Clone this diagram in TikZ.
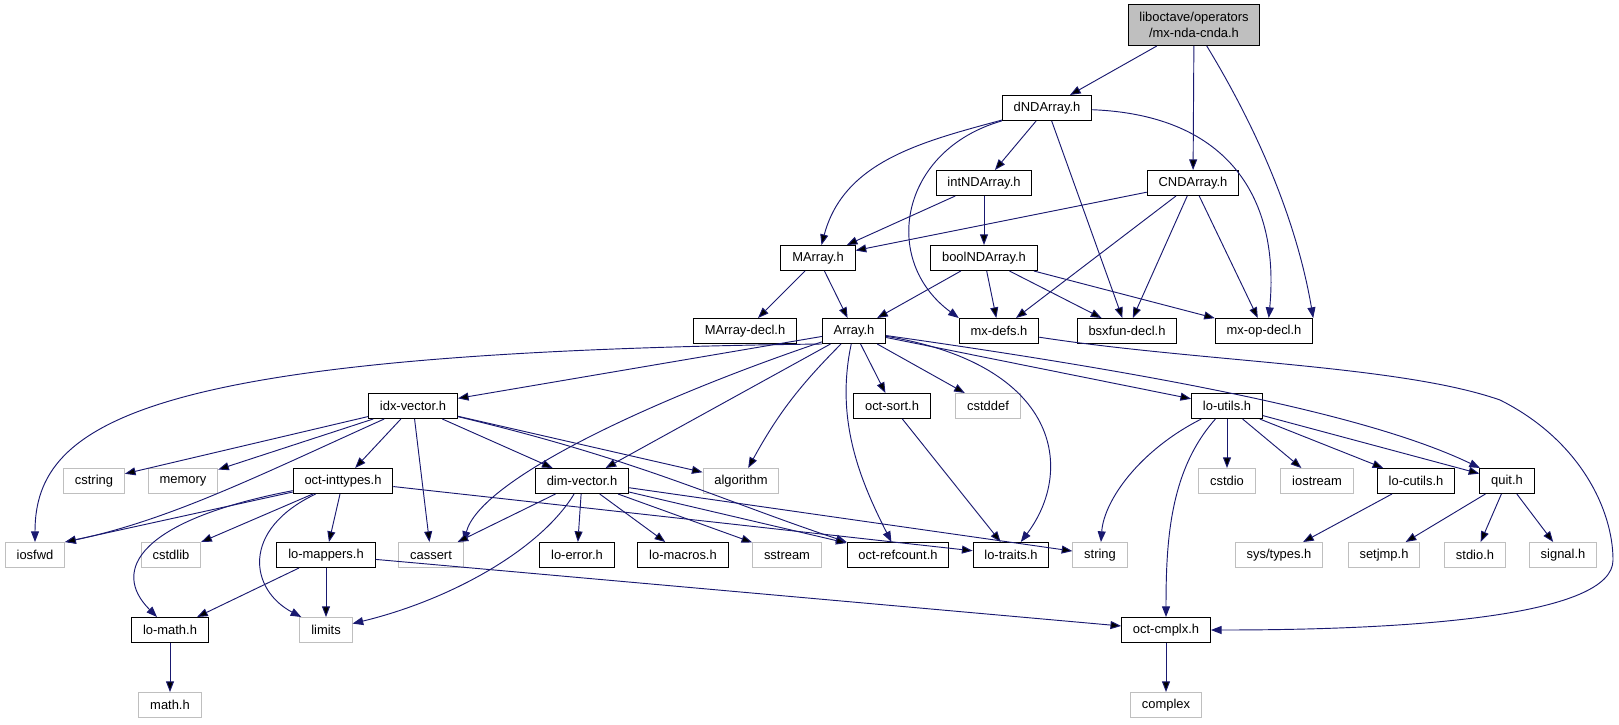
\documentclass[tikz,border=0pt]{standalone}
\usepackage{fontspec}
\setmainfont{Liberation Sans}
\usepackage{tikz}
\usetikzlibrary{arrows.meta}
\definecolor{edgeblue}{RGB}{25,25,112}
\definecolor{sysgrey}{RGB}{191,191,191}

\begin{document}
\begin{tikzpicture}[x=0.75pt,y=0.75pt,
  hdr/.style={draw=black,line width=0.75pt,fill=white,inner xsep=8.5pt,inner ysep=0pt,
    minimum height=18.75pt,font=\fontsize{9.7pt}{11.5pt}\selectfont},
  sys/.style={hdr,draw=sysgrey},
  topfile/.style={hdr,fill=sysgrey,align=center,minimum height=30.75pt},
  dep/.style={draw=edgeblue,line width=0.7pt,-{Triangle[length=8pt,width=6pt]}}]
\useasboundingbox (0,0) rectangle (1619,-724);

\node[topfile] (top) at (1194,-25) {liboctave/operators\\/mx-nda-cnda.h};
\node[hdr] (dnd) at (1047,-108) {dNDArray.h};
\node[hdr] (intnd) at (984,-183) {intNDArray.h};
\node[hdr] (cnd) at (1193,-183) {CNDArray.h};
\node[hdr] (marray) at (818,-258) {MArray.h};
\node[hdr] (boolnd) at (984,-258) {boolNDArray.h};
\node[hdr] (marraydecl) at (745,-331) {MArray-decl.h};
\node[hdr] (array) at (854,-331) {Array.h};
\node[hdr] (mxdefs) at (999,-331) {mx-defs.h};
\node[hdr] (bsxfun) at (1127,-331) {bsxfun-decl.h};
\node[hdr] (mxop) at (1264,-331) {mx-op-decl.h};
\node[hdr] (idxvec) at (413,-406) {idx-vector.h};
\node[hdr] (octsort) at (892,-406) {oct-sort.h};
\node[sys] (cstddef) at (988,-406) {cstddef};
\node[hdr] (loutils) at (1227,-406) {lo-utils.h};
\node[sys] (cstring) at (94,-481) {cstring};
\node[sys] (memory) at (183,-481) {memory};
\node[hdr] (octint) at (343,-481) {oct-inttypes.h};
\node[hdr] (dimvec) at (582,-481) {dim-vector.h};
\node[sys] (algorithm) at (741,-481) {algorithm};
\node[sys] (cstdio) at (1227,-481) {cstdio};
\node[sys] (iostream) at (1317,-481) {iostream};
\node[hdr] (locutils) at (1416,-481) {lo-cutils.h};
\node[hdr] (quit) at (1507,-481) {quit.h};
\node[sys] (iosfwd) at (35,-555) {iosfwd};
\node[sys] (cstdlib) at (171,-555) {cstdlib};
\node[hdr] (lomappers) at (326,-555) {lo-mappers.h};
\node[sys] (cassert) at (431,-555) {cassert};
\node[hdr] (loerror) at (577,-555) {lo-error.h};
\node[hdr] (lomacros) at (683,-555) {lo-macros.h};
\node[sys] (sstream) at (787,-555) {sstream};
\node[hdr] (octref) at (898,-555) {oct-refcount.h};
\node[hdr] (lotraits) at (1011,-555) {lo-traits.h};
\node[sys] (string) at (1100,-555) {string};
\node[sys] (systypes) at (1279,-555) {sys/types.h};
\node[sys] (setjmp) at (1384,-555) {setjmp.h};
\node[sys] (stdioh) at (1475,-555) {stdio.h};
\node[sys] (signal) at (1563,-555) {signal.h};
\node[hdr] (lomath) at (170,-630) {lo-math.h};
\node[sys] (limits) at (326,-630) {limits};
\node[hdr] (octcmplx) at (1166,-630) {oct-cmplx.h};
\node[sys] (mathh) at (170,-705) {math.h};
\node[sys] (complex) at (1166,-705) {complex};

\path[dep] (top) edge (dnd) edge (cnd);
\draw[dep] (top) .. controls (1270,-150) and (1300,-240) .. (mxop.north east);
\path[dep] (dnd) edge[out=195,in=75] (marray) edge (intnd) edge (bsxfun);
\draw[dep] (dnd) .. controls (900,-150) and (880,-260) .. (mxdefs.north west);
\draw[dep] (dnd) .. controls (1230,-115) and (1280,-200) .. (mxop.70);
\path[dep] (intnd) edge (marray) edge (boolnd);
\path[dep] (cnd) edge (marray) edge (mxdefs) edge (bsxfun) edge (mxop);
\path[dep] (marray) edge (marraydecl) edge (array);
\path[dep] (boolnd) edge (array) edge (mxdefs) edge (bsxfun) edge (mxop);
\draw[dep] (mxdefs) .. controls (1200,-362) and (1400,-365) .. (1500,-400)
  .. controls (1580,-440) and (1613,-510) .. (1613,-560)
  .. controls (1613,-615) and (1420,-630) .. (octcmplx);
\draw[dep] (array.south west) .. controls (150,-352) and (35,-420) .. (iosfwd);
\draw[dep] (array) .. controls (650,-400) and (480,-480) .. (cassert.north east);
\draw[dep] (array) .. controls (835,-420) and (860,-480) .. (octref);
\draw[dep] (array) .. controls (1060,-365) and (1075,-470) .. (lotraits);
\draw[dep] (array) .. controls (1200,-380) and (1380,-420) .. (quit);
\path[dep] (array) edge (idxvec) edge (dimvec) edge[bend right=8] (algorithm)
  edge (octsort) edge (cstddef) edge (loutils);
\path[dep] (idxvec) edge (cstring) edge (memory) edge (octint) edge (cassert)
  edge (dimvec) edge (algorithm);
\draw[dep] (idxvec) .. controls (260,-475) and (170,-520) .. (iosfwd.north east);
\draw[dep] (idxvec) .. controls (640,-460) and (720,-500) .. (octref.north west);
\draw[dep] (octint) .. controls (140,-520) and (110,-570) .. (lomath);
\draw[dep] (octint) .. controls (240,-530) and (250,-590) .. (limits);
\path[dep] (octint) edge (iosfwd.north east) edge (cstdlib) edge (lomappers) edge (lotraits);
\draw[dep] (dimvec) .. controls (540,-550) and (450,-600) .. (limits);
\path[dep] (dimvec) edge (cassert) edge (loerror) edge (lomacros) edge (sstream)
  edge (octref) edge (string);
\path[dep] (lomappers) edge (lomath) edge (limits) edge (octcmplx);
\path[dep] (octsort) edge (lotraits);
\path[dep] (lomath) edge (mathh);
\draw[dep] (loutils) .. controls (1140,-450) and (1104,-500) .. (string);
\draw[dep] (loutils) .. controls (1170,-470) and (1166,-540) .. (octcmplx);
\path[dep] (loutils) edge (cstdio) edge (iostream) edge (locutils) edge (quit);
\path[dep] (locutils) edge (systypes);
\path[dep] (quit) edge (setjmp) edge (stdioh) edge (signal);
\path[dep] (octcmplx) edge (complex);
\end{tikzpicture}
\end{document}
